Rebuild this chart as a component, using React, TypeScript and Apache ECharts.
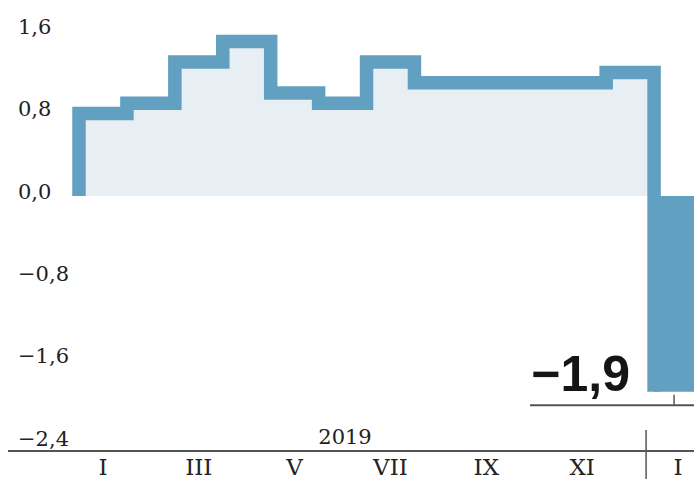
import React, { useEffect, useRef } from "react";
import * as echarts from "echarts";

// Months of 2019 (Roman numerals) followed by January 2020
const months2019 = ["I", "II", "III", "IV", "V", "VI", "VII", "VIII", "IX", "X", "XI", "XII"];
const months2020 = ["I"];
const categories = [...months2019, ...months2020];
// Monthly values for 2019
const values2019 = [0.8, 0.9, 1.3, 1.5, 1.0, 0.9, 1.3, 1.1, 1.1, 1.1, 1.1, 1.2];
// January 2020
const values2020 = [-1.9];
const yearLabel = "2019";
const yMin = -2.4;
const yMax = 1.6;
const yStep = 0.8;

const LINE = "#61a0c0";
const LIGHT = "#e8eff4";
const AXIS = "#555555";
const TEXT = "#222222";
const SERIF = "'DejaVu Serif', serif";

const CHART_W = 720; // wider than the 694px window; the plot runs off the right edge
const CHART_H = 479;

function fmt(v: number): string {
  const r = Math.round(v * 10) / 10;
  if (r === 0) return "0,0";
  return (r < 0 ? "\u2212" : "") + Math.abs(r).toFixed(1).replace(".", ",");
}

export default function App() {
  const ref = useRef<HTMLDivElement>(null);

  useEffect(() => {
    if (!ref.current) return;
    document.documentElement.style.overflow = "hidden";
    document.body.style.overflow = "hidden";
    const chart = echarts.init(ref.current, undefined, { renderer: "svg" });
    const n2019 = values2019.length;
    const last2019 = values2019[n2019 - 1];
    const v2020 = values2020[0];

    const stepData: number[][] = [[0, 0]];
    values2019.forEach((v, i) => stepData.push([i, v]));
    stepData.push([n2019, last2019]);
    stepData.push([n2019, v2020]);

    const barData: (number | null)[] = categories.map((_, i) =>
      i >= n2019 ? values2020[i - n2019] : null
    );

    chart.setOption({
      animation: false,
      grid: { left: 79, right: CHART_W - 702, top: 31.2, bottom: CHART_H - 443.2, containLabel: false },
      xAxis: [
        {
          type: "category",
          data: categories,
          boundaryGap: true,
          position: "bottom",
          offset: 7,
          axisLine: { show: false },
          axisTick: { show: false },
          axisLabel: {
            interval: 1,
            margin: 5,
            fontFamily: SERIF,
            fontSize: 23,
            lineHeight: 23,
            color: TEXT,
          },
          splitLine: { show: false },
        },
        {
          type: "value",
          min: 0,
          max: categories.length,
          show: false,
        },
      ],
      yAxis: {
        type: "value",
        min: yMin,
        max: yMax,
        interval: yStep,
        axisLine: { show: false },
        axisTick: { show: false },
        splitLine: { show: false },
        axisLabel: {
          align: "left",
          margin: 61,
          fontFamily: SERIF,
          fontSize: 21,
          color: TEXT,
          formatter: (v: number) => "{t|" + fmt(v) + "}",
          rich: {
            t: {
              fontFamily: SERIF,
              fontSize: 21,
              color: TEXT,
              padding: [0, 0, 9, 0],
            },
          },
        },
      },
      series: [
        {
          type: "bar",
          xAxisIndex: 0,
          yAxisIndex: 0,
          data: barData,
          barWidth: "100%",
          itemStyle: { color: LINE },
          z: 1,
        },
        {
          type: "line",
          xAxisIndex: 1,
          yAxisIndex: 0,
          data: stepData,
          step: "end",
          symbol: "none",
          clip: false,
          lineStyle: { color: LINE, width: 13.5, join: "miter", cap: "butt" },
          areaStyle: { color: LIGHT, opacity: 1, origin: 0 },
          z: 2,
        },
      ],
    });

    const [bx, by] = chart.convertToPixel({ xAxisIndex: 1, yAxisIndex: 0 }, [n2019, v2020]) as number[];

    chart.setOption({
      graphic: [
        {
          type: "line",
          shape: { x1: 8, y1: 451, x2: CHART_W, y2: 451 },
          style: { stroke: AXIS, lineWidth: 2 },
          silent: true,
        },
        {
          type: "line",
          shape: { x1: bx - 8, y1: 430, x2: bx - 8, y2: 479 },
          style: { stroke: AXIS, lineWidth: 1.5 },
          silent: true,
        },
        {
          type: "text",
          x: 345,
          y: 437,
          style: {
            text: yearLabel,
            font: "21px 'DejaVu Serif', serif",
            fill: TEXT,
            align: "center",
            verticalAlign: "middle",
          },
          silent: true,
        },
        {
          type: "line",
          shape: { x1: 530, y1: by + 13.5, x2: CHART_W, y2: by + 13.5 },
          style: { stroke: AXIS, lineWidth: 2 },
          silent: true,
        },
        {
          type: "line",
          shape: { x1: bx + 20, y1: by + 3, x2: bx + 20, y2: by + 13.5 },
          style: { stroke: AXIS, lineWidth: 1.5 },
          silent: true,
        },
        {
          type: "text",
          x: bx - 24,
          y: by - 18,
          style: {
            text: fmt(v2020),
            font: "bold 50px 'Liberation Sans', Arial, sans-serif",
            fill: "#151515",
            align: "right",
            verticalAlign: "middle",
          },
          silent: true,
        },
      ],
    });

    return () => chart.dispose();
  }, []);

  return (
    <div
      ref={ref}
      style={{ position: "fixed", left: 0, top: 0, width: CHART_W, height: CHART_H, background: "#ffffff" }}
    />
  );
}
